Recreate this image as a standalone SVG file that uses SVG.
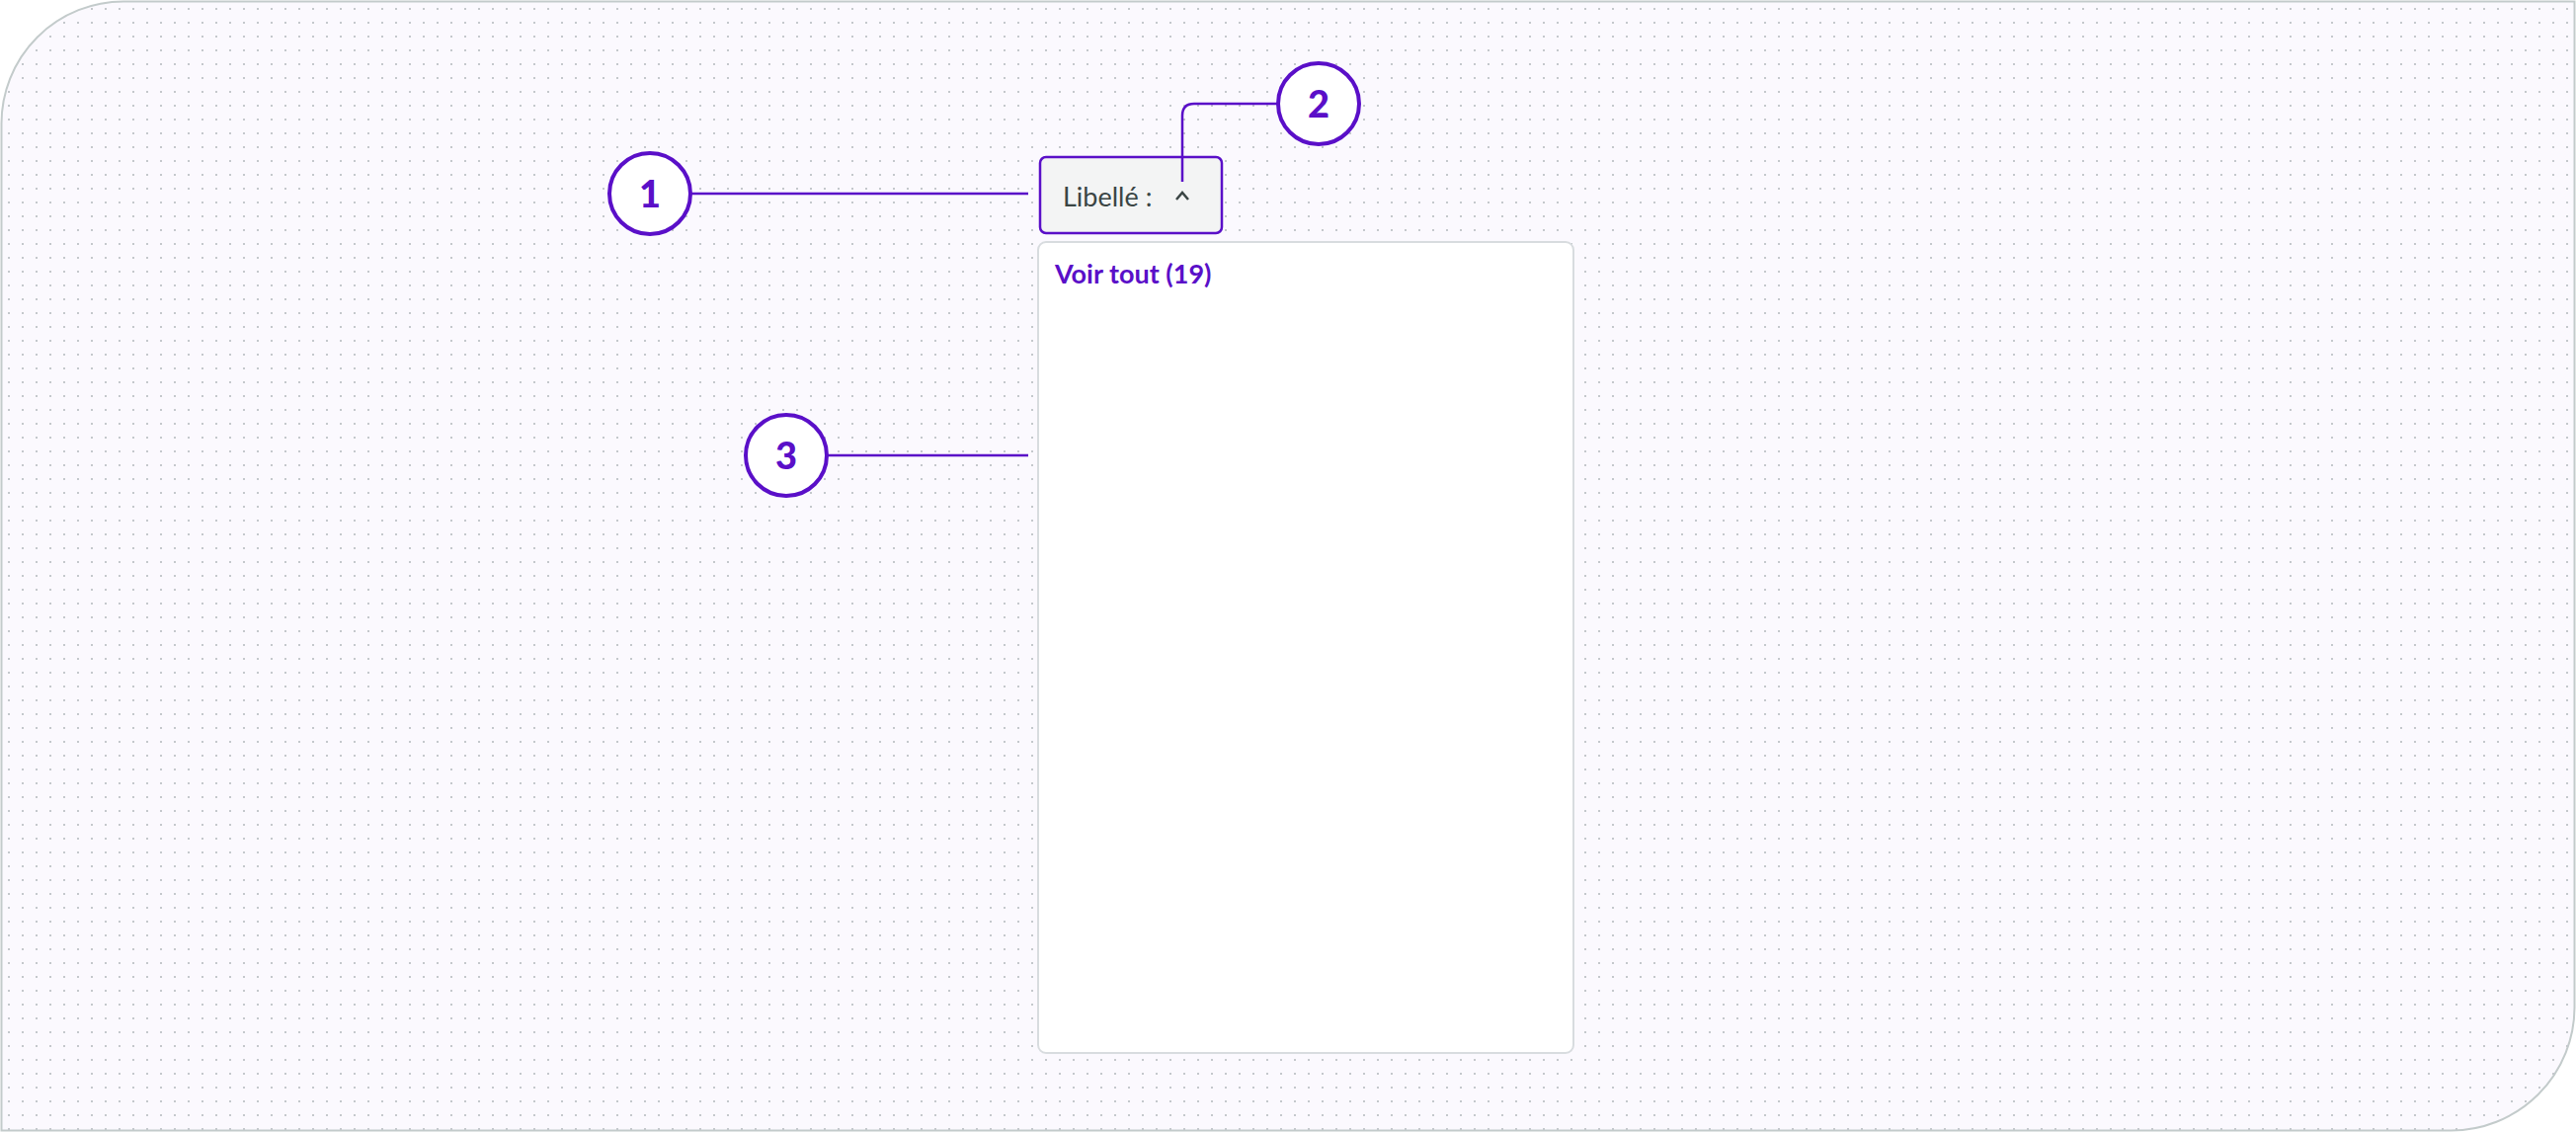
<svg xmlns="http://www.w3.org/2000/svg" width="2608" height="1146" viewBox="0 0 2608 1146">
<defs>
<pattern id="dots" x="0" y="0" width="14" height="14" patternUnits="userSpaceOnUse"><rect x="8" y="8" width="2" height="2" fill="#c4c8cc"/></pattern>
</defs>
<style>
.num{font-family:"Lato","Liberation Sans",sans-serif;font-weight:900;font-size:38px;fill:#5a0fc8;text-anchor:middle}
.circ{fill:#fff;stroke:#5a0fc8;stroke-width:4}
.ln{fill:none;stroke:#5a0fc8;stroke-width:2.5}
</style>
<path d="M125 1.5 H2606.5 V1020 A125 125 0 0 1 2481.5 1144.5 H1.5 V125 A123.5 123.5 0 0 1 125 1.5 Z" fill="#fbf9fe" stroke="#c3cbcb" stroke-width="2"/>
<path d="M125 1.5 H2606.5 V1020 A125 125 0 0 1 2481.5 1144.5 H1.5 V125 A123.5 123.5 0 0 1 125 1.5 Z" fill="url(#dots)"/>
<g id="button">
<rect x="1053" y="159" width="184" height="77" rx="6" fill="#f3f4f4" stroke="#5a0fc8" stroke-width="2.5"/>
<text x="1076" y="209" font-family="Lato,'Liberation Sans',sans-serif" font-size="27" fill="#3a4544">Libellé :</text>
<path d="M1191 202 L1197 195 L1203 202" fill="none" stroke="#3a4544" stroke-width="2.5"/>
</g>
<g id="dropdown">
<rect x="1051" y="245" width="542" height="821" rx="8" fill="#fff" stroke="#d8dcdf" stroke-width="2"/>
<text x="1068" y="287" font-family="Lato,'Liberation Sans',sans-serif" font-weight="700" font-size="27" fill="#5a0fc8">Voir tout (19)</text>
</g>
<g id="connectors">
<line class="ln" x1="700" y1="196" x2="1041" y2="196"/>
<path class="ln" d="M1293 105 H1209 Q1197 105 1197 117 V184"/>
<line class="ln" x1="838" y1="461" x2="1041" y2="461"/>
</g>
<g id="callout1"><circle class="circ" cx="658" cy="196" r="41"/><text class="num" x="658" y="210">1</text></g>
<g id="callout2"><circle class="circ" cx="1335" cy="105" r="41"/><text class="num" x="1335" y="119">2</text></g>
<g id="callout3"><circle class="circ" cx="796" cy="461" r="41"/><text class="num" x="796" y="475">3</text></g>
</svg>
